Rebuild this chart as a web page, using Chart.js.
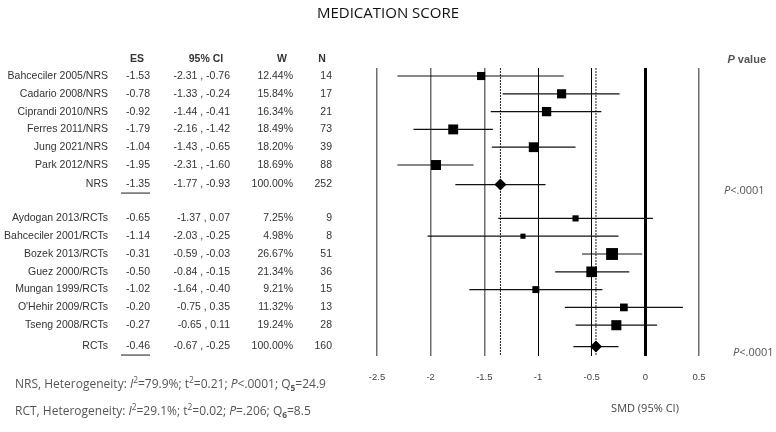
<!DOCTYPE html>
<html>
<head>
<meta charset="utf-8">
<script src="https://cdn.jsdelivr.net/npm/chart.js@4.4.0/dist/chart.umd.min.js"></script>
<style>
  html, body { margin: 0; padding: 0; background: #fff; }
  #wrap { width: 776px; height: 432px; }
</style>
</head>
<body>
<div id="wrap"><canvas id="forest"></canvas></div>
<script>
// NRS studies
const nrsStudies = ['Bahceciler 2005/NRS', 'Cadario 2008/NRS', 'Ciprandi 2010/NRS', 'Ferres 2011/NRS', 'Jung 2021/NRS', 'Park 2012/NRS'];
const nrsES = [-1.53, -0.78, -0.92, -1.79, -1.04, -1.95];
const nrsLow = [-2.31, -1.33, -1.44, -2.16, -1.43, -2.31];
const nrsHigh = [-0.76, -0.24, -0.41, -1.42, -0.65, -1.60];
const nrsW = [12.44, 15.84, 16.34, 18.49, 18.20, 18.69];
const nrsN = [14, 17, 21, 73, 39, 88];

// RCT studies
const rctStudies = ['Aydogan 2013/RCTs', 'Bahceciler 2001/RCTs', 'Bozek 2013/RCTs', 'Guez 2000/RCTs', 'Mungan 1999/RCTs', "O'Hehir 2009/RCTs", 'Tseng 2008/RCTs'];
const rctES = [-0.65, -1.14, -0.31, -0.50, -1.02, -0.20, -0.27];
const rctLow = [-1.37, -2.03, -0.59, -0.84, -1.64, -0.75, -0.65];
const rctHigh = [0.07, -0.25, -0.03, -0.15, -0.40, 0.35, 0.11];
const rctW = [7.25, 4.98, 26.67, 21.34, 9.21, 11.32, 19.24];
const rctN = [9, 8, 51, 36, 15, 13, 28];

// pooled estimates
const poolLabels = ['NRS', 'RCTs'];
const poolES = [-1.35, -0.46];
const poolLow = [-1.77, -0.67];
const poolHigh = [-0.93, -0.25];
const poolW = [100, 100];
const poolN = [252, 160];
const poolP = ['<.0001', '<.0001'];

const xTicks = [-2.5, -2, -1.5, -1, -0.5, 0, 0.5];

// build the row list (row index = y value)
const rows = [];
nrsStudies.forEach((s, i) => rows.push({ label: s, es: nrsES[i], lo: nrsLow[i], hi: nrsHigh[i], w: nrsW[i], n: nrsN[i], y: i }));
rows.push({ label: poolLabels[0], es: poolES[0], lo: poolLow[0], hi: poolHigh[0], w: poolW[0], n: poolN[0], y: nrsStudies.length + 0.1, pool: true, p: poolP[0] });
const rctStart = nrsStudies.length + 2;
rctStudies.forEach((s, i) => rows.push({ label: s, es: rctES[i], lo: rctLow[i], hi: rctHigh[i], w: rctW[i], n: rctN[i], y: rctStart + i }));
rows.push({ label: poolLabels[1], es: poolES[1], lo: poolLow[1], hi: poolHigh[1], w: poolW[1], n: poolN[1], y: rctStart + rctStudies.length + 0.2, pool: true, p: poolP[1] });

const studyRows = rows.filter(r => !r.pool);
const poolRows = rows.filter(r => r.pool);
const yMin = -0.45, yMax = 15.73;

const datasets = [];
datasets.push({
    label: 'studies',
    type: 'scatter',
    data: studyRows.map(r => ({ x: r.es, y: r.y, w: r.w })),
    pointStyle: 'rect',
    pointRadius: ctx => 2.3 * Math.sqrt(ctx.raw.w) / Math.SQRT2,
    backgroundColor: '#000',
    borderWidth: 0
});
datasets.push({
    label: 'pooled',
    type: 'scatter',
    data: poolRows.map(r => ({ x: r.es, y: r.y })),
    pointStyle: 'rectRot',
    pointRadius: 6,
    backgroundColor: '#000',
    borderWidth: 0
});
// confidence intervals
rows.forEach(r => {
    datasets.push({
        type: 'line',
        data: [{ x: r.lo, y: r.y }, { x: r.hi, y: r.y }],
        borderColor: '#111',
        borderWidth: 1.2,
        pointRadius: 0
    });
});
// dashed lines at pooled estimates
poolES.forEach(v => {
    datasets.push({
        type: 'line',
        data: [{ x: v, y: yMin }, { x: v, y: yMax }],
        borderColor: '#222',
        borderWidth: 1,
        borderDash: [2, 1],
        pointRadius: 0
    });
});

function drawRuns(ctx, x, y, runs, size, family, color, align) {
    // runs: [text, style] style: 'i' italic, 'b' bold, 'bi', 'sup', 'sub'
    const fontFor = st => {
        let f = '';
        if (st && st.includes('i')) f += 'italic ';
        if (st && st.includes('b')) f += 'bold ';
        const s = (st === 'sup' || st === 'sub') ? size * 0.7 : size;
        return f + s + 'px ' + family;
    };
    let total = 0;
    runs.forEach(([t, st]) => { ctx.font = fontFor(st); total += ctx.measureText(t).width; });
    let cx = align === 'right' ? x - total : align === 'center' ? x - total / 2 : x;
    ctx.fillStyle = color;
    ctx.textAlign = 'left';
    ctx.textBaseline = 'alphabetic';
    runs.forEach(([t, st]) => {
        ctx.font = fontFor(st);
        let dy = 0;
        if (st === 'sup') dy = -size * 0.38;
        if (st === 'sub') dy = size * 0.22;
        ctx.fillText(t, cx, y + dy);
        cx += ctx.measureText(t).width;
    });
}

const forestText = {
    id: 'forestText',
    afterDraw(chart) {
        const ctx = chart.ctx;
        const ys = chart.scales.y;
        ctx.save();
        // title
        drawRuns(ctx, 388, 18, [['MEDICATION SCORE']], 15, '"Open Sans"', '#111', 'center');
        // headers
        ctx.font = 'bold 10.5px "Liberation Sans", Arial';
        ctx.fillStyle = '#333';
        ctx.textBaseline = 'middle';
        ctx.textAlign = 'center';
        ctx.fillText('ES', 137, 59);
        ctx.fillText('95% CI', 206, 59);
        ctx.fillText('W', 282, 59);
        ctx.fillText('N', 322, 59);
        drawRuns(ctx, 766, 63, [['P', 'bi'], [' value', 'b']], 11, '"Liberation Sans", Arial', '#555', 'right');
        // table
        ctx.font = '10.5px "Liberation Sans", Arial';
        ctx.textBaseline = 'middle';
        rows.forEach(r => {
            const py = ys.getPixelForValue(r.y);
            ctx.fillStyle = '#333';
            ctx.textAlign = 'right';
            ctx.fillText(r.label, 108, py);
            ctx.fillText(r.es.toFixed(2), 150, py);
            ctx.fillText(r.lo.toFixed(2) + ' , ' + r.hi.toFixed(2), 230, py);
            ctx.fillText(r.w.toFixed(2) + '%', 293, py);
            ctx.fillText(String(r.n), 332, py);
            if (r.pool) {
                ctx.strokeStyle = '#666';
                ctx.lineWidth = 1.5;
                ctx.beginPath();
                ctx.moveTo(121, py + 8.5);
                ctx.lineTo(150, py + 8.5);
                ctx.stroke();
            }
        });
        // p values for pooled rows
        drawRuns(ctx, 724, ys.getPixelForValue(poolRows[0].y) + 9, [['P', 'i'], [poolRows[0].p]], 11, '"Open Sans"', '#555', 'left');
        drawRuns(ctx, 733, ys.getPixelForValue(poolRows[1].y) + 9, [['P', 'i'], [poolRows[1].p]], 11, '"Open Sans"', '#555', 'left');
        // axis title
        drawRuns(ctx, 645, 412, [['SMD (95% CI)']], 11, '"Open Sans"', '#444', 'center');
        // heterogeneity
        drawRuns(ctx, 15, 388, [['NRS, Heterogeneity: '], ['I', 'i'], ['2', 'sup'], ['=79.9%; t'], ['2', 'sup'], ['=0.21; '], ['P', 'i'], ['<.0001; Q'], ['5', 'sub'], ['=24.9']], 12, '"Open Sans"', '#555', 'left');
        drawRuns(ctx, 15, 415, [['RCT, Heterogeneity: '], ['I', 'i'], ['2', 'sup'], ['=29.1%; t'], ['2', 'sup'], ['=0.02; '], ['P', 'i'], ['=.206; Q'], ['6', 'sub'], ['=8.5']], 12, '"Open Sans"', '#555', 'left');
        ctx.restore();
    }
};

new Chart(document.getElementById('forest'), {
    type: 'scatter',
    data: { datasets: datasets },
    options: {
        responsive: true,
        maintainAspectRatio: false,
        animation: false,
        layout: { padding: { left: 377, right: 77, top: 68, bottom: 0 } },
        plugins: { legend: { display: false }, tooltip: { enabled: false } },
        scales: {
            x: {
                type: 'linear',
                min: -2.5,
                max: 0.5,
                afterBuildTicks: scale => { scale.ticks = xTicks.map(v => ({ value: v })); },
                afterFit: scale => { scale.height = 76; },
                border: { display: false },
                grid: {
                    drawTicks: false,
                    color: c => (c.tick && (c.tick.value === 0 || c.tick.value === -1 || c.tick.value === -0.5)) ? '#000' : '#6e6e6e',
                    lineWidth: c => !c.tick ? 1 : c.tick.value === 0 ? 3 : (c.tick.value === -1 || c.tick.value === -0.5) ? 1 : 1.5
                },
                ticks: {
                    padding: 16,
                    color: '#444',
                    font: { family: '"Liberation Sans", Arial', size: 9.5 },
                    callback: v => String(v)
                }
            },
            y: {
                type: 'linear',
                reverse: true,
                min: yMin,
                max: yMax,
                display: false
            }
        }
    },
    plugins: [forestText]
});
</script>
</body>
</html>
